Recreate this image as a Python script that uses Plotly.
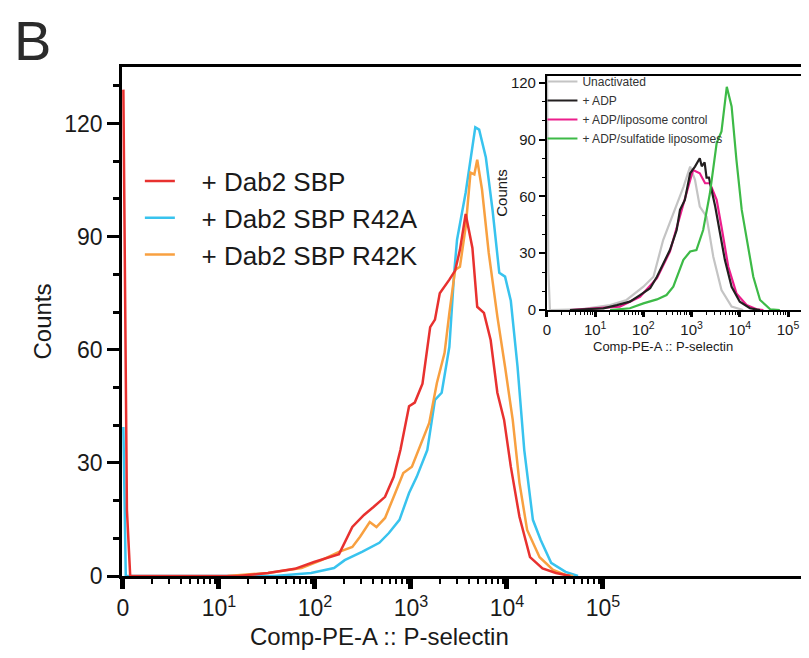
import plotly.graph_objects as go

FONT = "Liberation Sans, Arial, Helvetica, sans-serif"
INK = "#1a1a1a"

# ---------------- main panel data (fluorescence value, counts) ----------------
main_names = ["+ Dab2 SBP", "+ Dab2 SBP R42A", "+ Dab2 SBP R42K"]
main_colors = ["#e8312f", "#38c3ee", "#f8a040"]

red_x = [1.01, 1.10, 1.19, 15.8, 32.4, 61.7, 97.7, 138, 178, 245, 324, 407, 537,
         661, 776, 955, 1096, 1318, 1585, 1778, 1995, 2512, 2884,
         3236, 3715, 4365, 4898, 5754, 6761, 7943, 9333, 10965, 13490,
         17380, 23440, 32360, 45710]
red_y = [129, 17.5, 0, 0, 0.8, 1.9, 3.7, 5.0, 5.8, 13, 16.2, 18.3, 21,
         26.3, 33.4, 45, 46, 51, 66, 68, 75, 78.6, 81,
         86.5, 96, 87, 71.4, 69.8, 62.6, 48.6, 41.4, 29, 15.7,
         5, 2, 0.8, 0]

cyan_x = [1.01, 1.07, 38.0, 91.2, 158, 204, 309, 468, 589, 759,
          955, 1148, 1479, 1778, 2089, 2512, 2818, 3020, 3715, 4677,
          5129, 6026, 7079, 8318, 9550, 10965, 12880, 15140, 18620, 22390,
          28840, 40740, 54950]
cyan_y = [39.5, 0, 0, 0.8, 2.1, 4.2, 6.4, 8.8, 11.4, 14.9,
          22, 26.3, 33.4, 46.7, 48.6, 60.8, 80.4, 89.2, 101.7, 119,
          118.4, 111, 97, 80.4, 79.4, 73, 55.5, 33.4, 14.9, 9.6,
          3.5, 1.1, 0]

orange_x = [12.3, 32.4, 72.4, 117, 178, 245, 295, 372, 437, 537,
            661, 832, 1023, 1318, 1549, 1862, 2239, 2512, 2884, 3236,
            3715, 4169, 4571, 4898, 5495, 6457, 7943, 9550, 11480, 13490,
            16220, 21880, 30200, 40740, 48980]
orange_y = [0, 0.8, 2.1, 4.2, 6.4, 7.7, 10.4, 14.3, 13, 15.4,
            21, 27.3, 29, 36, 40.6, 51.2, 59.2, 69.8, 81.2, 82,
            92.6, 107, 106.5, 110.4, 102.5, 85.7, 68.8, 55.5, 41.4, 24.7,
            12.2, 5, 1.6, 0.3, 0]

# ---------------- inset data ----------------
inset_names = ["Unactivated", "+ ADP", "+ ADP/liposome control", "+ ADP/sulfatide liposomes"]
inset_colors = ["#c4c4c4", "#231f20", "#ec1e8c", "#3dba47"]

grey_x = [1.0, 1.07, 1.15, 5.0, 20.4, 44.7, 100, 162, 257, 417,
          676, 933, 1175, 1479, 2042, 2818, 4169, 6761, 11750]
grey_y = [130, 20, 0, 0.3, 2.6, 5.3, 12.3, 17.6, 37, 51,
          65, 75.8, 68.8, 54.7, 49.4, 28.2, 10.6, 1.8, 0]

black_x = [3.0, 14.8, 28.2, 52.5, 85.1, 138, 191, 257, 355, 490,
           575, 724, 933, 1175, 1479, 1622, 1862, 2042, 2291, 2570,
           3090, 3890, 4898, 6761, 10000, 16220, 26300]
black_y = [0, 0.9, 2.6, 4.4, 7.9, 11.5, 17.6, 24.7, 31.7, 42.3,
           52.9, 58.2, 72.3, 75.8, 80.2, 76, 78, 70, 70, 64,
           54.7, 40.6, 26.5, 12.3, 4.4, 0.9, 0]

magenta_x = [3.0, 32.4, 85.1, 191, 355, 575, 851, 1072, 1479, 1905,
             2399, 3311, 4169, 5754, 8511, 13800, 22390, 30900]
magenta_y = [0, 1.8, 7, 16.8, 30.9, 49.4, 65.3, 74, 72.3, 67,
             67, 58.2, 44, 23, 8.8, 2.6, 0.4, 0]

green_x = [20.4, 52.5, 100, 191, 302, 417, 676, 933, 1259, 1738,
           2399, 3311, 4169, 5370, 6761, 8511, 10965, 15140, 19050, 26300,
           42660, 67610]
green_y = [0, 0.9, 3.5, 5.6, 7.9, 12.3, 26.5, 30.9, 31.7, 42.3,
           61.7, 88.2, 94.4, 118, 107.6, 79.4, 52.9, 33.5, 17.6, 5.3,
           0.4, 0]

# ---------------- axis tick labels ----------------
decade_vals = [1, 10, 100, 1000, 10000, 100000]
decade_text = ["0", "10<sup>1</sup>", "10<sup>2</sup>", "10<sup>3</sup>",
               "10<sup>4</sup>", "10<sup>5</sup>"]
minor_vals = [k * 10 ** d for d in range(0, 5) for k in range(2, 10)]
count_ticks = [0, 30, 60, 90, 120]
x_title = "Comp-PE-A :: P-selectin"
y_title = "Counts"

NB = "\u00a0\u00a0\u00a0"  # gap between legend swatch and label

fig = go.Figure()

main_series = [(main_names[1], cyan_x, cyan_y, main_colors[1], 2),
               (main_names[2], orange_x, orange_y, main_colors[2], 3),
               (main_names[0], red_x, red_y, main_colors[0], 1)]
for name, xs, ys, col, rank in main_series:
    fig.add_trace(go.Scatter(x=xs, y=ys, mode="lines", name=NB + name,
                             line=dict(color=col, width=2.5),
                             legendrank=rank, legendgroup=name,
                             legend="legend", xaxis="x", yaxis="y"))

inset_series = [(inset_names[0], grey_x, grey_y, inset_colors[0], 1),
                (inset_names[2], magenta_x, magenta_y, inset_colors[2], 3),
                (inset_names[1], black_x, black_y, inset_colors[1], 2),
                (inset_names[3], green_x, green_y, inset_colors[3], 4)]
for name, xs, ys, col, rank in inset_series:
    fig.add_trace(go.Scatter(x=xs, y=ys, mode="lines", name=name,
                             line=dict(color=col, width=2.2),
                             legendrank=rank, legend="legend2",
                             xaxis="x2", yaxis="y2"))

axis_common = dict(showgrid=False, zeroline=False, showline=True,
                   linecolor="black", ticks="outside", tickcolor="black")

fig.update_layout(
    width=801, height=650,
    margin=dict(l=114, r=0, t=59, b=82),
    paper_bgcolor="white", plot_bgcolor="white",
    font=dict(family=FONT, color=INK),
    xaxis=dict(axis_common, type="log", range=[-0.01, 7.146],
               linewidth=2.5, mirror=True,
               tickmode="array", tickvals=decade_vals, ticktext=decade_text,
               ticklen=10, tickwidth=4.5, tickfont=dict(size=23),
               minor=dict(tickmode="array", tickvals=minor_vals, ticks="outside",
                          ticklen=5, tickwidth=2, tickcolor="black")),
    yaxis=dict(axis_common, range=[0, 135], linewidth=2.5,
               tickmode="array", tickvals=count_ticks,
               ticklen=12, tickwidth=2.5, tickfont=dict(size=23),
               minor=dict(dtick=10, tick0=0, ticks="outside", ticklen=6,
                          tickwidth=2.5, tickcolor="black"),
               title=dict(text=y_title, font=dict(size=24), standoff=6)),
    xaxis2=dict(axis_common, type="log", range=[0, 5.29],
                domain=[0.6186, 0.9898], anchor="y2",
                linewidth=2, mirror=True, ticklabeloverflow="allow",
                tickmode="array", tickvals=decade_vals, ticktext=decade_text,
                ticklen=5, tickwidth=2.5, tickfont=dict(size=15),
                minor=dict(tickmode="array", tickvals=minor_vals, ticks="outside",
                           ticklen=3, tickwidth=1.2, tickcolor="black")),
    yaxis2=dict(axis_common, range=[0, 123.7],
                domain=[0.5226, 0.9823], anchor="x2",
                linewidth=2, mirror=True,
                tickmode="array", tickvals=count_ticks,
                ticklen=6, tickwidth=2, tickfont=dict(size=15),
                minor=dict(dtick=10, tick0=0, ticks="outside", ticklen=3,
                           tickwidth=1.2, tickcolor="black"),
                title=dict(text=y_title, font=dict(size=15), standoff=0)),
    legend=dict(x=0.026, y=0.822, xanchor="left", yanchor="top",
                font=dict(size=26, color=INK), bgcolor="rgba(0,0,0,0)",
                tracegroupgap=0),
    legend2=dict(x=0.612, y=1.0, xanchor="left", yanchor="top",
                 font=dict(size=12, color="#333333"), bgcolor="rgba(0,0,0,0)",
                 tracegroupgap=0),
    annotations=[
        dict(text="B", xref="paper", yref="paper", x=-0.158, y=1.1155,
             xanchor="left", yanchor="top", showarrow=False, borderpad=0,
             font=dict(size=56, color="#2b2b2b", family=FONT)),
        dict(text=x_title, xref="paper", yref="paper", x=0.3755, y=-0.1198,
             xanchor="center", yanchor="middle", showarrow=False,
             font=dict(size=24, color=INK, family=FONT)),
        dict(text=x_title, xref="paper", yref="paper", x=0.7875, y=0.45,
             xanchor="center", yanchor="middle", showarrow=False,
             font=dict(size=13, color=INK, family=FONT)),
    ],
)

fig.write_html("out.html")
